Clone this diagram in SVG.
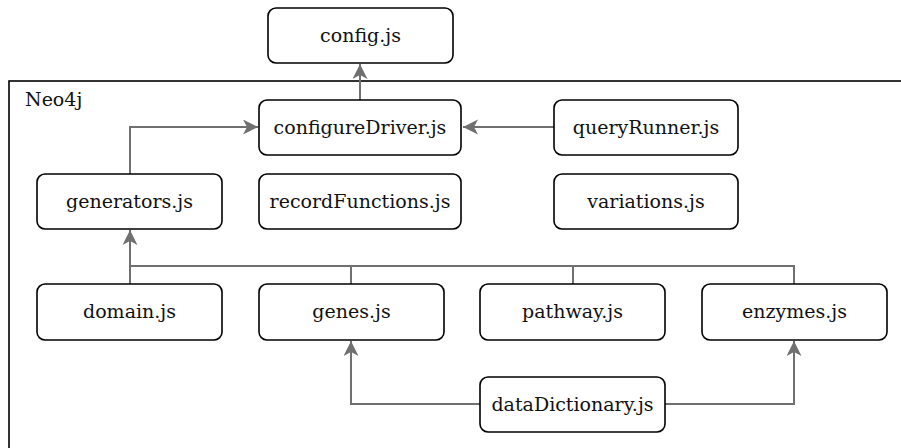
<svg xmlns="http://www.w3.org/2000/svg" width="901" height="448" viewBox="0 0 901 448">
  <style>
    .node rect { fill: #ffffff; stroke: #000000; stroke-width: 1.6; }
    .node text, .label { font-family: "DejaVu Serif", "Liberation Serif", serif; font-size: 19px; fill: #111111; text-anchor: middle; }
    .label { text-anchor: start; }
    .container { fill: none; stroke: #000000; stroke-width: 1.6; }
    .edge { fill: none; stroke: #707070; stroke-width: 2; }
  </style>
  <defs>
    <marker id="arrow" markerUnits="userSpaceOnUse" markerWidth="16" markerHeight="16" refX="15" refY="7.5" orient="auto" viewBox="0 0 16 16">
      <path d="M0,0 L15,7.5 L0,15 L4,7.5 Z" fill="#707070"/>
    </marker>
  </defs>

  <!-- Neo4j module boundary -->
  <g id="neo4j-group">
    <rect class="container" x="9" y="81" width="920" height="400"/>
    <text class="label" x="25" y="106">Neo4j</text>
  </g>

  <!-- dependency edges -->
  <g id="connectors">
    <path class="edge" d="M360,100 V64" marker-end="url(#arrow)"/>
    <path class="edge" d="M130,174 V127 H258" marker-end="url(#arrow)"/>
    <path class="edge" d="M554,127 H463" marker-end="url(#arrow)"/>
    <path class="edge" d="M130,284 V230" marker-end="url(#arrow)"/>
    <path class="edge" d="M130,266 H794 V284"/>
    <path class="edge" d="M351,284 V266"/>
    <path class="edge" d="M573,284 V266"/>
    <path class="edge" d="M480,404 H351 V341" marker-end="url(#arrow)"/>
    <path class="edge" d="M665,404 H794 V341" marker-end="url(#arrow)"/>
  </g>

  <g id="config" class="node">
    <rect x="268" y="8" width="185" height="55" rx="8"/>
    <text x="360.5" y="42">config.js</text>
  </g>
  <g id="configureDriver" class="node">
    <rect x="259" y="100" width="202" height="55" rx="8"/>
    <text x="360" y="134">configureDriver.js</text>
  </g>
  <g id="queryRunner" class="node">
    <rect x="554" y="100" width="184" height="55" rx="8"/>
    <text x="646" y="134">queryRunner.js</text>
  </g>
  <g id="generators" class="node">
    <rect x="37" y="174" width="185" height="55" rx="8"/>
    <text x="129.5" y="208">generators.js</text>
  </g>
  <g id="recordFunctions" class="node">
    <rect x="259" y="174" width="202" height="55" rx="8"/>
    <text x="360" y="208">recordFunctions.js</text>
  </g>
  <g id="variations" class="node">
    <rect x="554" y="174" width="184" height="55" rx="8"/>
    <text x="646" y="208">variations.js</text>
  </g>
  <g id="domain" class="node">
    <rect x="37" y="284" width="185" height="56" rx="8"/>
    <text x="129.5" y="318">domain.js</text>
  </g>
  <g id="genes" class="node">
    <rect x="259" y="284" width="185" height="56" rx="8"/>
    <text x="351.5" y="318">genes.js</text>
  </g>
  <g id="pathway" class="node">
    <rect x="480" y="284" width="185" height="56" rx="8"/>
    <text x="572.5" y="318">pathway.js</text>
  </g>
  <g id="enzymes" class="node">
    <rect x="702" y="284" width="185" height="56" rx="8"/>
    <text x="794.5" y="318">enzymes.js</text>
  </g>
  <g id="dataDictionary" class="node">
    <rect x="480" y="377" width="185" height="55" rx="8"/>
    <text x="572.5" y="411">dataDictionary.js</text>
  </g>
</svg>
